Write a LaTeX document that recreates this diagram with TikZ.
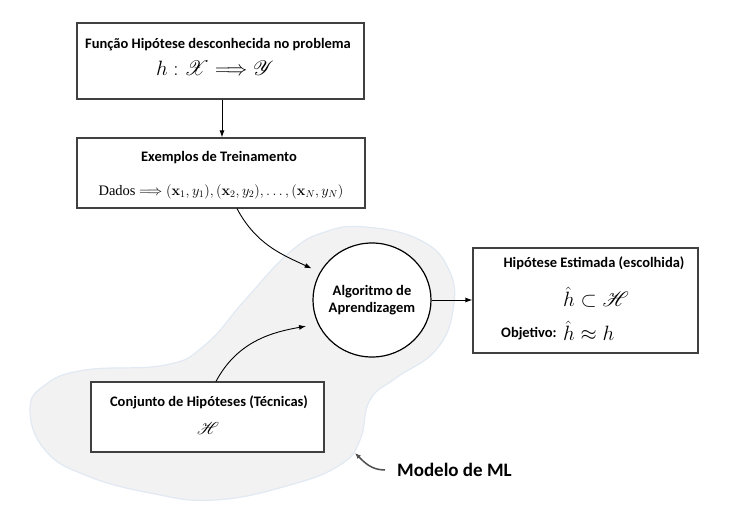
\documentclass[tikz,border=0pt]{standalone}
\usepackage{amsmath,amssymb}
\usepackage{mathrsfs}
\usepackage[no-math]{fontspec}
\setmainfont{Carlito}
\newfontfamily\timesf{Liberation Serif}
\usetikzlibrary{arrows.meta,shapes.geometric}
\definecolor{boxline}{HTML}{404040}
\definecolor{blobfill}{HTML}{F2F2F2}
\definecolor{blobedge}{HTML}{E1E9F3}
\definecolor{notegray}{HTML}{505050}
\tikzset{
  box/.style={draw=boxline, line width=1.2pt, fill=white, inner sep=0pt},
  ttl/.style={font=\fontsize{14.5}{17}\selectfont\bfseries, inner sep=0pt},
  mth/.style={font=\fontsize{19}{22}\selectfont, inner sep=0pt},
  conn/.style={line width=0.9pt, -{Latex[length=7pt,width=5pt]}},
}
\begin{document}
\begin{tikzpicture}[x=1pt,y=-1pt]
\useasboundingbox (0,0) rectangle (732,515);
% ML model blob
\fill[blobfill, draw=blobedge, line width=1.2pt] plot[smooth cycle, tension=0.75] coordinates {
 (365,227) (420,240) (449,270) (453,310) (436,350) (396,378) (370,400)
 (360,440) (340,465) (290,485) (215,500) (150,493) (85,475) (45,450)
 (30,410) (45,385) (85,370) (165,365) (205,345) (245,300) (290,252) (325,232)};
% boxes
\node[box, minimum width=287pt, minimum height=76pt] (fh) at (220.5,61) {};
\node[box, minimum width=288pt, minimum height=70pt] (ex) at (221,173) {};
\node[draw=black, line width=1.2pt, fill=white, ellipse, minimum width=118pt, minimum height=114pt, inner sep=0pt] (alg) at (372,300) {};
\node[box, minimum width=225pt, minimum height=105pt] (hyp) at (585.5,300.5) {};
\node[box, minimum width=233pt, minimum height=70pt] (cj) at (207.5,417) {};
% texts
\node[ttl] (t1) at (218,45) {Função Hipótese desconhecida no problema};
\node[font=\fontsize{22}{26}\selectfont, inner sep=0pt] (m1) at (215,68) {$h:\mathscr{X}\Longrightarrow\mathscr{Y}$};
\node[ttl] (t2) at (219,158) {Exemplos de Treinamento};
\node[font=\fontsize{14.5}{17}\selectfont\timesf, inner sep=0pt] (m2) at (221,192)
  {Dados $\Longrightarrow (\mathbf{x}_1,y_1),(\mathbf{x}_2,y_2),\ldots,(\mathbf{x}_N,y_N)$};
\node[ttl, align=center] (t3) at (372,300) {Algoritmo de\\Aprendizagem};
\node[ttl] (t4) at (594,263) {Hipótese Estimada (escolhida)};
\node[font=\fontsize{20}{24}\selectfont, inner sep=0pt] (m4) at (596,297) {$\hat{h}\subset\mathscr{H}$};
\node[ttl, anchor=west] (t5) at (501,334) {Objetivo:};
\node[font=\fontsize{20}{24}\selectfont, inner sep=0pt, anchor=west] (m5) at (563,331) {$\hat{h}\approx h$};
\node[ttl] (t6) at (209,402) {Conjunto de Hipóteses (Técnicas)};
\node[mth] (m6) at (208,428) {$\mathscr{H}$};
\node[font=\fontsize{19}{22}\selectfont\bfseries, inner sep=0pt, anchor=west] (ml) at (397,470) {Modelo de ML};
\coordinate (blobpt) at (355,453);
% connectors
\draw[conn] (fh.south -| 222,0) -- (ex.north -| 222,0);
\draw[conn, shorten >=9pt] ([xshift=16pt]ex.south) to[out=-62, in=155] (alg.152);
\draw[conn, shorten >=12pt] ([xshift=8.5pt]cj.north) to[out=62, in=190] (alg.204);
\draw[conn] (alg.east) -- (hyp.west |- alg.east);
\draw[line width=1.5pt, draw=notegray, -{Latex[length=6pt,width=5pt]}] ([xshift=-12pt]ml.west) to[out=180, in=-45] (blobpt);
\end{tikzpicture}
\end{document}
